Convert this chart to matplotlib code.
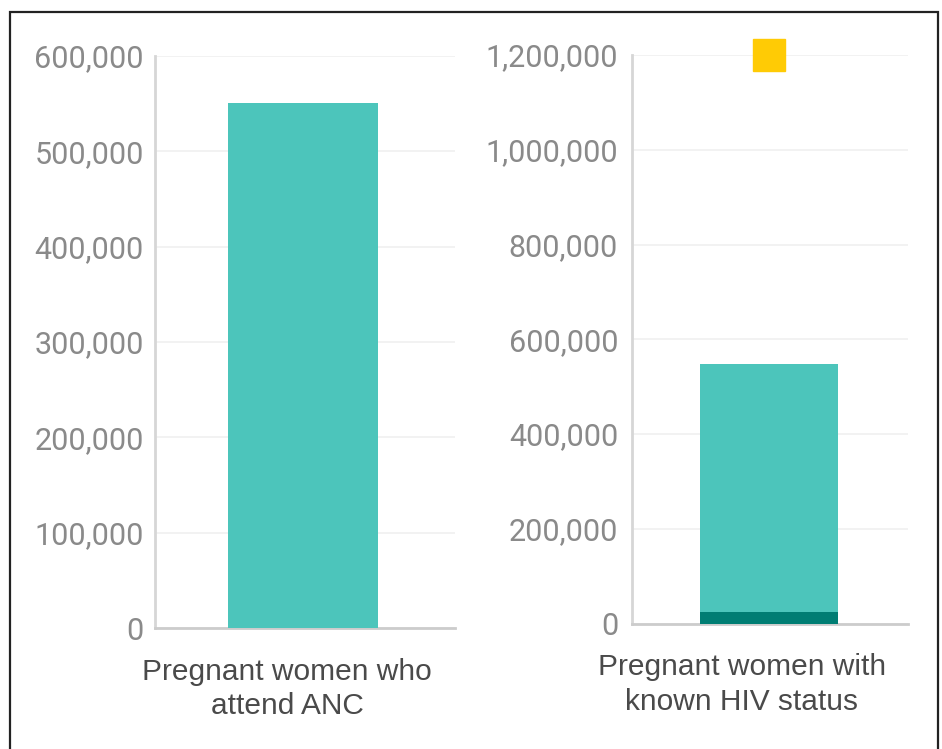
import matplotlib
matplotlib.use("Agg")
import matplotlib.pyplot as plt
from matplotlib.ticker import FuncFormatter
from matplotlib.patches import Rectangle
import matplotlib.transforms as mtransforms

# ---- data ----
anc_label = ["Pregnant women who\nattend ANC"]
anc_values = [551000]
anc_ticks = [0, 100000, 200000, 300000, 400000, 500000, 600000]

status_label = ["Pregnant women with\nknown HIV status"]
status_total = [548000]
status_positive = [25000]
target_values = [1200000]
status_ticks = [0, 200000, 400000, 600000, 800000, 1000000, 1200000]

TEAL = "#4CC5BB"
DARK = "#007D73"
YELLOW = "#FFCB05"
TICK_C = "#8a8a8a"
LABEL_C = "#4a4a4a"

fig = plt.figure(figsize=(9.42, 7.49), dpi=100)
W, H = 942, 749

def add_ax(x0, x1, ytop, ybot):
    return fig.add_axes([x0 / W, 1 - ybot / H, (x1 - x0) / W, (ybot - ytop) / H])

ax1 = add_ax(155, 455, 56, 628)
ax2 = add_ax(632, 908, 55, 623.5)

fmt = FuncFormatter(lambda v, p: f"{int(v):,}")

def style(ax, ticks, ypad):
    ax.set_ylim(ticks[0], ticks[-1])
    ax.set_yticks(ticks)
    ax.yaxis.set_major_formatter(fmt)
    for s in ["top", "right"]:
        ax.spines[s].set_visible(False)
    ax.spines["left"].set_color("#d6d6d6")
    ax.spines["left"].set_linewidth(2)
    ax.spines["bottom"].set_color("#cccccc")
    ax.spines["bottom"].set_linewidth(2)
    ax.grid(axis="y", color="#f0f0f0", linewidth=1.2)
    ax.set_axisbelow(True)
    ax.tick_params(axis="y", length=0, pad=ypad, labelsize=22, labelcolor=TICK_C)
    ax.tick_params(axis="x", length=0, pad=21.5, labelsize=21.5, labelcolor=LABEL_C)
    for t in ax.get_yticklabels():
        t.set_fontfamily("Roboto")

# left panel
x1 = list(range(len(anc_values)))
ax1.bar(x1, anc_values, width=0.5, color=TEAL, zorder=3)
ax1.set_xlim(-0.4933, 0.5067)
style(ax1, anc_ticks, 8)
ax1.set_xticks(x1)
ax1.set_xticklabels(anc_label, fontfamily="Liberation Sans", linespacing=1.3)
for t in ax1.get_xticklabels():
    t.set_transform(t.get_transform() + mtransforms.ScaledTranslation(-16 / 100, 0, fig.dpi_scale_trans))

# right panel
x2 = list(range(len(status_total)))
ax2.bar(x2, status_total, width=0.5, color=TEAL, zorder=3)
ax2.bar(x2, status_positive, width=0.5, color=DARK, zorder=4)
ax2.plot(x2, target_values, marker="s", markersize=23, color=YELLOW, linestyle="none",
         zorder=5, clip_on=False)
ax2.set_xlim(-0.496, 0.504)
style(ax2, status_ticks, 10)
ax2.set_xticks(x2)
ax2.set_xticklabels(status_label, fontfamily="Liberation Sans", linespacing=1.3)
for t in ax2.get_xticklabels():
    t.set_transform(t.get_transform() + mtransforms.ScaledTranslation(-27 / 100, 0, fig.dpi_scale_trans))

# outer frame
frame = Rectangle((10 / W, -0.05), (938 - 10) / W, 1 - 12 / H + 0.05,
                  transform=fig.transFigure, fill=False, edgecolor="#222222",
                  linewidth=1.6, zorder=10)
fig.patches.append(frame)

fig.savefig("out.png", dpi=100)
